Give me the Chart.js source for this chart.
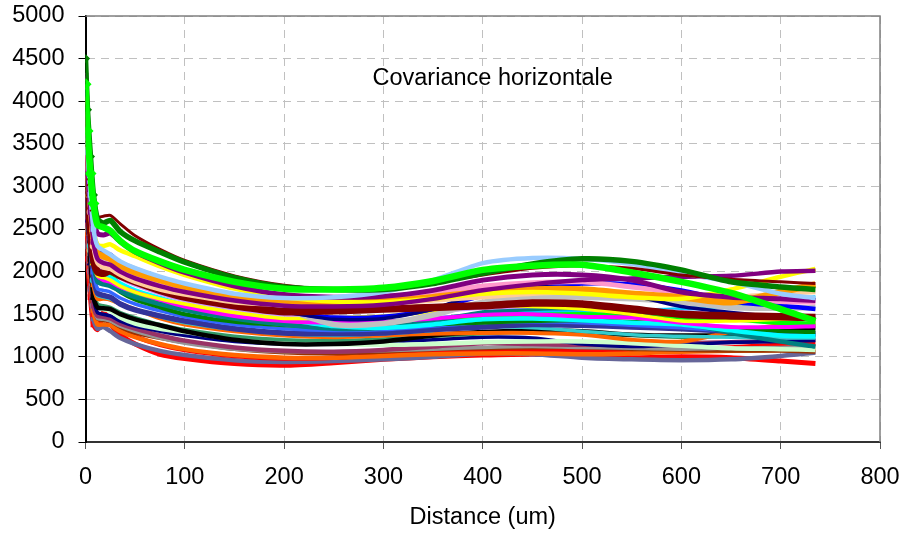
<!DOCTYPE html>
<html>
<head>
<meta charset="utf-8">
<script src="https://cdn.jsdelivr.net/npm/chart.js@4"></script>
<style>
  html, body { margin: 0; padding: 0; background: #fff; }
</style>
</head>
<body>
<canvas id="chart" width="905" height="535"></canvas>
<script>
// distance (um) sampled along each curve
const distances = [0, 2, 5, 8, 12, 18, 25, 35, 50, 75, 100, 150, 200, 250, 300, 350, 400, 450, 500, 550, 600, 650, 700, 735]
const xTicks = [0, 100, 200, 300, 400, 500, 600, 700, 800]
const yTicks = [0, 500, 1000, 1500, 2000, 2500, 3000, 3500, 4000, 4500, 5000]

// covariance values, one array per profile
const lime1 = [4200, 3650, 3150, 2800, 2550, 2520, 2480, 2360, 2240, 2120, 2020, 1880, 1800, 1790, 1810, 1890, 2020, 2070, 2080, 1990, 1880, 1750, 1560, 1420]
const darkGreen1 = [4500, 3900, 3350, 2900, 2620, 2570, 2600, 2470, 2360, 2230, 2110, 1930, 1820, 1790, 1790, 1860, 1980, 2090, 2150, 2120, 2020, 1880, 1820, 1790]
const maroon1 = [3950, 3500, 3050, 2750, 2640, 2650, 2660, 2560, 2420, 2260, 2130, 1950, 1840, 1790, 1800, 1870, 1960, 2040, 2070, 2040, 1960, 1910, 1880, 1860]
const lightBlue1 = [3850, 3400, 2900, 2500, 2300, 2250, 2200, 2120, 2040, 1940, 1860, 1740, 1690, 1700, 1760, 1900, 2100, 2160, 2150, 2090, 1980, 1880, 1740, 1690]
const purple1 = [4300, 3700, 3100, 2650, 2450, 2430, 2450, 2350, 2230, 2100, 1990, 1830, 1730, 1700, 1710, 1780, 1900, 1960, 1960, 1900, 1760, 1700, 1680, 1660]
const purple2 = [3600, 3150, 2700, 2350, 2150, 2100, 2080, 2000, 1920, 1830, 1760, 1660, 1600, 1590, 1610, 1680, 1780, 1850, 1900, 1920, 1940, 1950, 2000, 2010]
const yellow1 = [4000, 3450, 2900, 2500, 2320, 2300, 2320, 2250, 2180, 2060, 1960, 1800, 1700, 1650, 1640, 1680, 1740, 1760, 1740, 1700, 1680, 1790, 1940, 2030]
const orange1 = [4000, 3450, 2850, 2400, 2220, 2180, 2150, 2070, 1990, 1900, 1820, 1720, 1660, 1640, 1650, 1700, 1760, 1790, 1790, 1740, 1700, 1640, 1760, 1850]
const pink1 = [3900, 3350, 2800, 2350, 2150, 2100, 2080, 2000, 1930, 1840, 1770, 1680, 1650, 1660, 1680, 1750, 1830, 1870, 1880, 1820, 1750, 1680, 1650, 1640]
const tan1 = [3700, 3200, 2700, 2300, 2100, 2050, 2030, 1960, 1880, 1790, 1730, 1640, 1610, 1610, 1620, 1660, 1700, 1740, 1760, 1740, 1700, 1700, 1740, 1760]
const maroon2 = [3400, 2950, 2500, 2150, 2000, 1980, 2010, 1950, 1880, 1780, 1700, 1600, 1530, 1540, 1560, 1580, 1600, 1630, 1620, 1560, 1500, 1480, 1470, 1460]
const navy1 = [3800, 3300, 2750, 2300, 2100, 2080, 2060, 1990, 1920, 1850, 1790, 1650, 1530, 1440, 1450, 1560, 1760, 1830, 1770, 1720, 1590, 1520, 1470, 1450]
const blue1 = [4100, 3550, 2950, 2450, 2250, 2220, 2200, 2090, 1990, 1870, 1770, 1620, 1530, 1460, 1470, 1560, 1720, 1800, 1860, 1850, 1780, 1650, 1600, 1560]
const silver1 = [4050, 3500, 2900, 2400, 2200, 2150, 2150, 2100, 2030, 1920, 1840, 1720, 1560, 1380, 1390, 1490, 1640, 1700, 1700, 1680, 1640, 1580, 1570, 1580]
const yellow2 = [3300, 2900, 2450, 2100, 1950, 1930, 1900, 1830, 1760, 1680, 1620, 1520, 1450, 1460, 1480, 1530, 1600, 1590, 1560, 1500, 1420, 1420, 1440, 1450]
const lavender1 = [3750, 3250, 2700, 2250, 2050, 2020, 2000, 1920, 1840, 1740, 1660, 1560, 1490, 1460, 1480, 1530, 1570, 1590, 1590, 1560, 1530, 1500, 1490, 1480]
const magenta1 = [3600, 3100, 2600, 2200, 1950, 1900, 1880, 1820, 1760, 1670, 1590, 1480, 1420, 1400, 1410, 1450, 1490, 1500, 1470, 1460, 1400, 1350, 1350, 1360]
const cyan1 = [3700, 3200, 2650, 2200, 1980, 1950, 1930, 1860, 1780, 1690, 1610, 1510, 1440, 1360, 1340, 1380, 1440, 1450, 1430, 1400, 1380, 1310, 1250, 1240]
const teal1 = [3500, 3000, 2500, 2100, 1880, 1850, 1830, 1770, 1700, 1620, 1550, 1450, 1380, 1330, 1340, 1420, 1520, 1560, 1570, 1500, 1400, 1280, 1180, 1120]
const green2 = [3500, 3000, 2500, 2100, 1900, 1870, 1850, 1760, 1670, 1580, 1500, 1410, 1370, 1350, 1360, 1380, 1400, 1420, 1430, 1410, 1380, 1340, 1300, 1290]
const lime2 = [3650, 3150, 2650, 2200, 1980, 1980, 1950, 1850, 1740, 1640, 1560, 1470, 1420, 1400, 1410, 1440, 1470, 1490, 1500, 1480, 1460, 1440, 1400, 1390]
const sky1 = [3550, 3100, 2600, 2150, 1950, 1900, 1880, 1800, 1720, 1640, 1570, 1480, 1420, 1390, 1400, 1450, 1500, 1520, 1530, 1540, 1560, 1600, 1660, 1700]
const royal1 = [3350, 2900, 2400, 2000, 1800, 1780, 1760, 1690, 1620, 1540, 1470, 1380, 1330, 1310, 1320, 1360, 1400, 1410, 1400, 1370, 1340, 1300, 1270, 1260]
const slateBlue1 = [3300, 2850, 2350, 1950, 1750, 1720, 1700, 1620, 1550, 1480, 1420, 1330, 1280, 1270, 1280, 1320, 1350, 1380, 1370, 1350, 1330, 1300, 1280, 1270]
const turquoise1 = [3250, 2800, 2300, 1900, 1720, 1700, 1680, 1620, 1550, 1470, 1400, 1320, 1270, 1250, 1270, 1310, 1350, 1340, 1300, 1260, 1240, 1230, 1220, 1220]
const darkOrange1 = [3300, 2850, 2300, 1850, 1680, 1680, 1670, 1620, 1560, 1450, 1380, 1300, 1250, 1230, 1250, 1270, 1280, 1280, 1260, 1200, 1180, 1290, 1370, 1390]
const black1 = [3400, 2800, 2150, 1700, 1580, 1570, 1560, 1500, 1440, 1370, 1300, 1200, 1150, 1150, 1180, 1250, 1290, 1310, 1300, 1260, 1250, 1260, 1330, 1340]
const seaGreen1 = [3150, 2700, 2200, 1800, 1620, 1600, 1580, 1520, 1460, 1380, 1320, 1240, 1200, 1190, 1210, 1240, 1270, 1290, 1280, 1250, 1230, 1240, 1250, 1250]
const lightGreen1 = [3200, 2750, 2250, 1850, 1600, 1560, 1540, 1460, 1390, 1330, 1290, 1210, 1170, 1150, 1140, 1150, 1170, 1180, 1180, 1160, 1130, 1100, 1090, 1080]
const navy2 = [3000, 2600, 2100, 1700, 1520, 1500, 1480, 1420, 1360, 1300, 1250, 1180, 1150, 1150, 1170, 1200, 1230, 1220, 1150, 1120, 1140, 1170, 1180, 1190]
const mauve1 = [3000, 2550, 2000, 1600, 1480, 1470, 1450, 1390, 1330, 1250, 1190, 1110, 1070, 1060, 1080, 1120, 1160, 1150, 1140, 1150, 1160, 1170, 1190, 1200]
const gray1 = [2900, 2500, 2000, 1600, 1450, 1440, 1420, 1360, 1300, 1220, 1160, 1090, 1060, 1060, 1070, 1090, 1110, 1120, 1110, 1100, 1090, 1100, 1110, 1120]
const brown1 = [3100, 2650, 2100, 1650, 1450, 1430, 1420, 1350, 1280, 1220, 1170, 1090, 1050, 1040, 1060, 1090, 1100, 1110, 1110, 1090, 1080, 1070, 1070, 1060]
const orange2 = [2850, 2450, 1950, 1550, 1380, 1380, 1370, 1300, 1230, 1150, 1090, 1020, 990, 990, 1010, 1030, 1040, 1040, 1030, 1040, 1060, 1070, 1080, 1080]
const red2 = [2800, 2400, 1900, 1500, 1420, 1520, 1440, 1340, 1240, 1140, 1080, 1010, 980, 990, 1020, 1050, 1070, 1080, 1080, 1050, 1080, 1110, 1140, 1150]
const slateGray1 = [2700, 2300, 1800, 1450, 1330, 1350, 1300, 1220, 1150, 1070, 1020, 960, 940, 950, 970, 1000, 1040, 1030, 990, 970, 960, 970, 1010, 1050]
const red1 = [2500, 2150, 1700, 1380, 1320, 1480, 1380, 1260, 1150, 1030, 980, 920, 900, 930, 970, 1000, 1020, 1030, 1020, 990, 1000, 990, 950, 920]

// first entry is drawn on top
const profiles = [
  [lime1, "#00FF00", 6.5, "rectRot", 5],
  [darkGreen1, "#008000", 5.5, "rectRot", 3.5],
  [maroon1, "#800000", 3, "crossRot", 5],
  [lightBlue1, "#99CCFF", 4.5, "rect", 3],
  [purple1, "#800080", 5, "rect", 3],
  [purple2, "#800080", 4.5, "rect", 3],
  [yellow1, "#FFFF00", 4.5, "triangle", 3.5],
  [orange1, "#FF9900", 6.5, "rect", 3],
  [pink1, "#FF99CC", 5, "rect", 3],
  [tan1, "#FFCC99", 4.5, "circle", 3],
  [maroon2, "#800000", 7.5, "crossRot", 4],
  [navy1, "#000080", 3.5, "rect", 2.5],
  [blue1, "#0000FF", 4.5, "rect", 3],
  [silver1, "#C0C0C0", 5.5, "circle", 3],
  [yellow2, "#FFFF00", 3.5, "triangle", 3],
  [lavender1, "#CC99FF", 3.5, "circle", 3],
  [magenta1, "#FF00FF", 4, "rect", 3],
  [cyan1, "#00FFFF", 4.5, "crossRot", 3.5],
  [teal1, "#008080", 4.5, "rect", 3],
  [green2, "#008000", 4, "rectRot", 3],
  [lime2, "#00FF00", 4.5, "rectRot", 3.5],
  [sky1, "#00CCFF", 4, "circle", 3],
  [royal1, "#3366FF", 3.5, "rect", 3],
  [slateBlue1, "#333399", 5.5, "crossRot", 3.5],
  [turquoise1, "#33CCCC", 3.5, "circle", 3],
  [darkOrange1, "#FF6600", 4, "rect", 3],
  [black1, "#000000", 4.5, "rect", 3],
  [seaGreen1, "#339966", 3.5, "rect", 3],
  [lightGreen1, "#CCFFCC", 4.5, "circle", 3],
  [navy2, "#000080", 3.5, "triangle", 3],
  [mauve1, "#993366", 4.5, "rect", 3],
  [gray1, "#969696", 3.5, "circle", 3],
  [brown1, "#993300", 4, "rect", 3],
  [orange2, "#FF6600", 4.5, "rect", 3],
  [red2, "#FF0000", 4.5, "rect", 3],
  [slateGray1, "#666699", 4.5, "rect", 3],
  [red1, "#FF0000", 5, "rect", 3]
]

const datasets = profiles.map(function (p) {
  return {
    data: p[0].map((v, i) => ({ x: distances[i], y: v })),
    borderColor: p[1],
    backgroundColor: p[1],
    borderWidth: p[2],
    pointStyle: p[3],
    pointRadius: ctx => ctx.dataIndex < 4 ? p[4] : 0,
    pointBorderWidth: 1.5,
    tension: 0.25,
    showLine: true,
    fill: false
  }
})

const labelFont = { family: "'Liberation Sans', Arial, sans-serif", size: 23.5 }

// text inside the plot + gray top/right frame
const extras = {
  id: "extras",
  afterDraw(chart) {
    const c = chart.ctx
    const a = chart.chartArea
    c.save()
    c.strokeStyle = "#808080"
    c.lineWidth = 1.5
    c.beginPath()
    c.moveTo(a.left, a.top)
    c.lineTo(a.right, a.top)
    c.lineTo(a.right, a.bottom)
    c.stroke()
    c.fillStyle = "#000"
    c.font = "23.5px 'Liberation Sans', Arial, sans-serif"
    c.textAlign = "center"
    c.textBaseline = "middle"
    c.fillText("Covariance horizontale", chart.scales.x.getPixelForValue(410), chart.scales.y.getPixelForValue(4270))
    c.restore()
  }
}

new Chart("chart", {
  type: "scatter",
  data: { datasets: datasets },
  options: {
    responsive: false,
    animation: false,
    events: [],
    layout: { padding: { top: 16, right: 25, bottom: 0, left: 0 } },
    plugins: { legend: { display: false }, tooltip: { enabled: false } },
    scales: {
      x: {
        type: "linear",
        min: 0, max: 800,
        afterBuildTicks: s => { s.ticks = xTicks.map(v => ({ value: v })) },
        afterFit: s => { s.height = 93; s.paddingLeft = 0; s.paddingRight = 0 },
        grid: { color: "#C0C0C0", tickColor: "#555", tickLength: 7, lineWidth: 1 },
        border: { color: "#333", width: 2, dash: [8, 6] },
        ticks: { color: "#000", font: labelFont, padding: 14, maxRotation: 0, callback: v => String(v) },
        title: { display: true, text: "Distance (um)", color: "#000", font: labelFont, padding: { top: 0, bottom: 3 } }
      },
      y: {
        type: "linear",
        min: 0, max: 5000,
        afterBuildTicks: s => { s.ticks = yTicks.map(v => ({ value: v })) },
        afterFit: s => { s.width = 85.5; s.paddingTop = 0; s.paddingBottom = 0 },
        grid: { color: "#C0C0C0", tickColor: "#000", tickLength: 7, lineWidth: 1 },
        border: { color: "#000", width: 2, dash: [8, 6] },
        ticks: { color: "#000", font: labelFont, padding: 14, callback: v => String(v) }
      }
    }
  },
  plugins: [extras]
})
</script>
</body>
</html>
